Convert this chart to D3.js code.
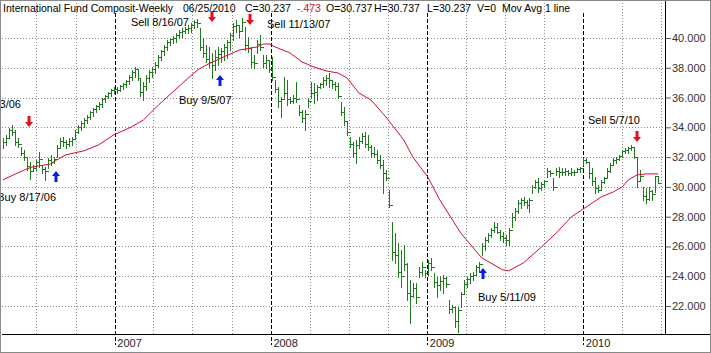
<!DOCTYPE html>
<html><head><meta charset="utf-8">
<script src="https://cdn.jsdelivr.net/npm/d3@7"></script>
<style>html,body{margin:0;padding:0;background:#fff;overflow:hidden}svg{display:block;font-family:Arial,"Liberation Sans",sans-serif}</style>
</head><body><svg id="c" width="711" height="353"></svg>
<script>
// ---------- DATA ----------
const firstFriday = "2006-04-14";
const highs = [
33.29,33.49,33.96,34.16,33.83,33.29,32.68,32.48,31.95,31.68,
31.48,31.81,32.35,31.48,31.34,31.95,32.15,32.01,32.82,33.29,
33.36,33.15,33.29,33.36,33.83,34.16,34.43,34.63,34.83,35.10,
35.30,35.50,35.70,35.97,36.17,36.37,36.58,36.71,36.71,36.85,
36.98,37.18,37.52,37.85,38.05,37.85,37.32,37.05,37.52,37.85,
38.05,38.39,38.86,39.19,39.53,39.87,40.00,40.13,40.34,40.54,
40.67,40.74,40.87,41.01,41.21,41.28,40.67,40.00,39.53,39.40,
38.99,39.19,39.40,39.33,39.60,39.87,40.34,41.01,41.21,40.87,
41.34,40.74,40.07,39.40,38.86,39.87,40.20,38.86,38.86,38.52,
38.72,37.18,36.71,36.04,37.38,37.18,36.04,36.17,37.05,35.50,
35.17,35.17,35.97,37.05,36.98,36.85,36.98,37.38,37.52,37.65,
37.18,37.05,36.98,35.70,35.37,34.36,33.36,33.02,33.15,33.36,
33.62,33.69,33.49,32.82,32.68,32.48,32.15,31.81,31.14,29.80,
27.65,26.91,26.24,25.77,26.11,24.90,23.76,23.56,23.56,24.63,
24.97,24.43,25.10,25.24,24.23,23.96,23.96,24.09,23.96,22.42,
22.08,21.95,21.95,22.95,23.76,23.96,24.23,24.30,24.77,24.97,
26.24,26.64,26.91,27.25,27.65,27.58,27.11,26.98,26.78,27.25,
28.26,28.59,29.13,29.26,29.33,29.13,29.26,30.13,30.47,30.60,
30.34,30.47,31.28,31.14,30.60,31.28,31.34,31.28,31.28,31.14,
31.28,31.14,31.28,31.34,31.95,31.95,31.61,31.28,30.67,30.13,
30.47,30.67,31.28,31.61,31.95,32.01,32.15,32.48,32.62,32.68,
32.82,32.68,32.01,31.14,30.00,29.93,30.00,29.80,30.75,30.737];
const lows = [
32.62,32.82,33.36,33.49,32.82,32.68,32.15,31.81,31.14,30.54,
31.07,31.14,31.34,30.94,30.47,31.28,31.48,31.61,32.01,32.62,
32.75,32.62,32.75,32.82,33.29,33.62,33.83,34.03,34.30,34.56,
34.77,35.03,35.23,35.37,35.70,35.97,36.11,36.31,36.31,36.44,
36.58,36.71,36.91,37.18,37.38,37.18,36.11,35.84,36.51,37.05,
37.38,37.65,38.05,38.52,38.86,39.19,39.53,39.66,39.73,40.00,
40.07,40.34,40.34,40.40,40.67,40.74,39.19,38.72,38.39,38.05,
37.32,37.85,38.19,38.39,38.52,38.66,39.19,39.87,40.40,40.07,
40.54,39.19,39.06,38.05,37.99,38.99,39.19,38.05,37.99,37.72,
37.18,36.38,35.37,34.70,36.04,35.50,35.64,35.64,35.70,34.83,
34.36,33.83,35.37,35.97,35.64,35.84,36.64,36.71,36.85,36.71,
36.64,36.51,35.97,34.83,34.16,33.49,32.68,32.01,31.61,32.62,
32.95,32.68,32.48,32.01,32.01,31.61,31.28,29.60,30.47,28.66,
25.10,24.90,23.96,23.29,24.43,22.42,20.87,22.62,22.22,23.96,
24.09,23.96,24.09,24.43,23.29,22.62,23.09,22.89,23.29,21.55,
21.61,20.61,20.27,21.95,22.89,23.29,23.56,23.76,24.09,24.30,
25.44,25.77,26.31,26.64,26.98,26.91,26.44,26.31,26.11,26.11,
27.32,27.79,28.26,28.59,28.79,28.59,28.32,29.60,29.93,29.66,
29.80,30.00,30.67,30.74,29.80,30.81,30.67,30.81,30.81,30.81,
30.81,30.81,31.01,31.01,31.48,31.61,30.60,30.13,29.60,29.66,
29.80,30.27,30.67,31.01,31.48,31.61,31.81,32.01,32.28,32.28,
32.48,31.95,30.00,30.47,29.13,28.93,29.13,29.13,29.66,30.237];
const closes = [
33.0,33.3,33.8,33.7,33.0,32.9,32.3,32.0,31.4,31.1,
31.3,31.7,31.9,31.2,31.1,31.8,31.7,31.9,32.6,33.1,
33.0,32.9,33.1,33.2,33.7,34.0,34.3,34.5,34.7,35.0,
35.2,35.4,35.6,35.9,36.1,36.3,36.5,36.6,36.5,36.8,
36.9,37.1,37.4,37.7,37.9,37.3,36.4,36.8,37.3,37.7,
37.9,38.2,38.7,39.1,39.4,39.7,39.9,40.0,40.2,40.4,
40.5,40.6,40.7,40.9,41.1,41.0,39.4,39.0,38.6,38.4,
38.2,38.7,38.9,39.1,39.4,39.7,40.2,40.8,40.9,40.5,
41.1,39.5,39.3,38.4,38.3,39.6,39.4,38.3,38.5,37.9,
37.4,36.6,35.8,35.9,36.3,35.9,35.8,36.0,35.9,35.0,
34.6,34.9,35.8,36.3,36.4,36.7,36.9,37.2,37.3,37.2,
36.9,36.8,36.1,35.0,34.4,33.7,32.9,32.3,32.8,33.1,
33.4,32.9,32.7,32.3,32.2,31.8,31.5,30.9,30.6,28.8,
25.6,25.4,24.3,24.0,24.8,22.9,22.7,23.2,22.6,24.3,
24.6,24.2,24.9,24.6,23.6,23.4,23.7,23.9,23.5,21.8,
21.9,21.0,21.7,22.8,23.5,23.8,24.0,24.1,24.6,24.8,
26.0,26.4,26.8,27.1,27.3,27.0,26.7,26.6,26.4,27.1,
28.0,28.4,28.9,29.1,29.0,28.8,29.1,30.0,30.3,29.9,
30.2,30.4,31.1,30.9,30.0,31.1,31.0,31.0,31.1,30.9,
31.0,31.0,31.2,31.3,31.8,31.7,30.9,30.4,29.9,29.8,
30.3,30.6,31.1,31.5,31.8,31.9,32.1,32.4,32.5,32.6,
32.7,32.0,30.4,30.7,29.4,29.2,29.7,29.5,30.71,30.237];
const lastOpen = 30.737;
const lastVolume = 0;

// moving average: bar index and value
const maIndex = [0,5,8,10,16,18,21,27,32,37,43,47,52,59,65,68,73,79,85,87,89,91,96,100,104,108,112,115,119,123,128,134,137,142,146,153,160,167,169,174,180,185,190,194,200,204,207,209,212,215,219];
const maValue = [30.47,30.94,31.21,31.34,31.54,31.81,32.15,32.42,32.82,33.49,34.03,34.50,35.50,36.78,37.85,38.19,38.66,39.19,39.40,39.60,39.60,39.40,38.99,38.39,38.05,37.79,37.65,37.32,36.31,35.84,34.70,33.15,32.01,30.67,29.13,26.91,25.24,24.43,24.36,24.90,25.97,26.91,27.99,28.52,29.33,29.66,30.00,30.47,30.81,30.87,30.87];

const priceTicks = [22,24,26,28,30,32,34,36,38,40];

const sigDates  = ["2006-06-13","2006-08-17","2007-08-16","2007-09-05","2007-11-13","2009-05-11","2010-05-07"];
const sigTypes  = ["sell","buy","sell","buy","sell","buy","sell"];
const sigLabels = ["Sell 6/13/06","Buy 8/17/06","Sell 8/16/07","Buy 9/5/07","Sell 11/13/07","Buy 5/11/09","Sell 5/7/10"];
const sigPrices = [34.03,31.07,41.07,37.52,40.87,24.56,33.02];

const title = "International Fund Composit-Weekly";
const maTitle = "Mov Avg 1 line";

// ---------- LAYOUT ----------
const W = 711, H = 353;
const plotL = 2, plotR = 665, axisY = 334;
const labelLayout = [ // dx, dy from arrow tip, anchor
  [-8,-19,"end"],[0,30,"end"],[-23,4,"end"],[-41,29,"start"],[17,3,"start"],[-5,33,"start"],[-49,-18,"start"]
];
const parse = d3.timeParse("%Y-%m-%d");
const svg = d3.select("#c");
svg.append("rect").attr("width",W).attr("height",H).attr("fill","#fff");

const x = d3.scaleTime().domain([parse("2006-04-12"), parse("2010-07-11")]).range([plotL, plotR]);
const y = d3.scaleLinear().domain([22,40]).range([306,38]);

const start = parse(firstFriday);
const dates = d3.timeFriday.range(start, d3.timeDay.offset(start, 7*highs.length)).slice(0, highs.length);
const bars = dates.map((d,i)=>({d, h:highs[i], l:lows[i], c:closes[i], o: i>0 ? closes[i-1] : null}));

const px = v => Math.round(v)+0.5;

// grid
const grid = svg.append("g").attr("shape-rendering","crispEdges");
grid.selectAll(".hg").data(priceTicks).join("line")
  .attr("x1",plotL).attr("x2",plotR).attr("y1",d=>px(y(d))).attr("y2",d=>px(y(d)))
  .attr("stroke","#8c8c8c").attr("stroke-dasharray","1,2");
const quarters = d3.timeMonth.every(3).range(x.domain()[0], x.domain()[1]).filter(d=>d.getMonth()!==0);
grid.selectAll(".vq").data(quarters).join("line")
  .attr("x1",d=>px(x(d))).attr("x2",d=>px(x(d))).attr("y1",0).attr("y2",axisY)
  .attr("stroke","#8c8c8c").attr("stroke-dasharray","1,2");
const years = d3.timeYear.range(x.domain()[0], x.domain()[1]);
grid.selectAll(".vy").data(years).join("line")
  .attr("x1",d=>px(x(d))).attr("x2",d=>px(x(d))).attr("y1",13).attr("y2",345)
  .attr("stroke","#000").attr("stroke-dasharray","4,2");

// bars
const bg = svg.append("g").attr("stroke","#1d7a1d").attr("stroke-width",1).attr("shape-rendering","crispEdges");
bars.forEach(b=>{
  const xx = px(x(b.d));
  bg.append("line").attr("x1",xx).attr("x2",xx).attr("y1",Math.round(y(b.h))).attr("y2",Math.round(y(b.l))+1);
  bg.append("line").attr("x1",xx).attr("x2",xx+2).attr("y1",px(y(b.c))).attr("y2",px(y(b.c)));
  if (b.o!==null) bg.append("line").attr("x1",xx-2).attr("x2",xx).attr("y1",px(y(b.o))).attr("y2",px(y(b.o)));
});

// moving average
const maPts = maIndex.map((k,j)=>({d:dates[k], v:maValue[j]}));
svg.append("path").datum(maPts)
  .attr("d", d3.line().x(p=>x(p.d)).y(p=>y(p.v)))
  .attr("fill","none").attr("stroke","#cc1030").attr("stroke-width",1);

// signals
const sg = svg.append("g");
sigDates.forEach((s,i)=>{
  const ax = Math.round(x(parse(s))), ty = Math.round(y(sigPrices[i]));
  const sell = sigTypes[i]==="sell";
  const k = sell ? -1 : 1;
  const path = `M${ax-1.5},${ty+k*11} h3 v${-k*6} h2.5 L${ax},${ty} L${ax-4},${ty+k*5} h2.5 Z`;
  sg.append("path").attr("d",path).attr("fill", sell ? "#e8101a" : "#0a1ee0");
  const L = labelLayout[i];
  sg.append("text").attr("x",ax+L[0]).attr("y",ty+L[1]).attr("text-anchor",L[2])
    .attr("font-size","11px").attr("fill","#000").text(sigLabels[i]);
});

// right axis
const ra = svg.append("g").attr("transform",`translate(${plotR},0)`)
  .call(d3.axisRight(y).tickValues(priceTicks).tickFormat(d3.format(".3f")).tickSize(6).tickPadding(1));
ra.select(".domain").remove();
ra.selectAll(".tick line").attr("stroke","#555");
ra.selectAll(".tick text").attr("font-size","11px").attr("font-family","Arial, 'Liberation Sans', sans-serif").attr("fill","#333");
svg.append("line").attr("x1",plotR+0.5).attr("x2",plotR+0.5).attr("y1",0).attr("y2",axisY).attr("stroke","#000");

// bottom axis
svg.append("line").attr("x1",plotL).attr("x2",W).attr("y1",axisY+0.5).attr("y2",axisY+0.5).attr("stroke","#000");
const ba = svg.append("g").attr("transform",`translate(0,${axisY})`)
  .call(d3.axisBottom(x).tickValues(years).tickFormat(d3.timeFormat("%Y")).tickSize(0));
ba.select(".domain").remove();
ba.selectAll(".tick text").attr("text-anchor","start").attr("x",2).attr("dy",null).attr("y",13)
  .attr("font-size","11px").attr("font-family","Arial, 'Liberation Sans', sans-serif").attr("fill","#222");

// header
const n = closes.length-1;
const f3 = d3.format(".3f");
const chg = closes[n]-closes[n-1];
const chgTxt = (chg<0?"-":"")+Math.abs(chg).toFixed(3).replace(/^0/,"");
const hdr = [
  [title,3,"#000",170],
  [d3.timeFormat("%m/%d/%Y")(dates[n]),183,"#000",null],
  ["C="+f3(closes[n]),245,"#000",null],
  [chgTxt,297,"#d0101a",null],
  ["O="+f3(lastOpen),326,"#000",null],
  ["H="+f3(highs[n]),374,"#000",null],
  ["L="+f3(lows[n]),427,"#000",null],
  ["V="+lastVolume,477,"#000",null],
  [maTitle,502,"#000",null]
];
const ht = svg.append("g").selectAll("text").data(hdr).join("text")
  .attr("x",d=>d[1]).attr("y",12).attr("font-size","10.5px").attr("fill",d=>d[2]).text(d=>d[0]);
ht.filter(d=>d[3]).attr("textLength",d=>d[3]).attr("lengthAdjust","spacingAndGlyphs");

// frame
svg.append("rect").attr("x",0.5).attr("y",0.5).attr("width",W-1).attr("height",H-1)
  .attr("fill","none").attr("stroke","#8a8a8a");
</script></body></html>
